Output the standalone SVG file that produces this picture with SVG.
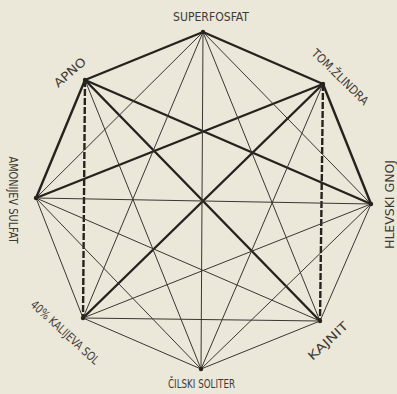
<svg xmlns="http://www.w3.org/2000/svg" width="397" height="394" viewBox="0 0 397 394">
<style>
.bg{fill:#ebe7d9}
.thick{stroke:#26221e;stroke-width:2.4;stroke-linecap:round;fill:none}
.dash{stroke:#26221e;stroke-width:2.4;stroke-dasharray:7 2;fill:none}
.thin{stroke:#3a3631;stroke-width:1;fill:none}
.dot{fill:#26221e}
.lbl{font-family:"Liberation Sans Narrow","DejaVu Sans Condensed","Liberation Sans",sans-serif;font-size:12px;fill:#3e3a35;text-anchor:middle;dominant-baseline:central}
</style>
<rect class="bg" x="0" y="0" width="397" height="394"/>
<g id="connectors">
<line class="thick" x1="85" y1="80" x2="203" y2="32"/>
<line class="thick" x1="203" y1="32" x2="323" y2="84"/>
<line class="thick" x1="323" y1="84" x2="371" y2="204"/>
<line class="thick" x1="36" y1="198" x2="85" y2="80"/>
<line class="thick" x1="85" y1="80" x2="371" y2="204"/>
<line class="thick" x1="36" y1="198" x2="323" y2="84"/>
<line class="thick" x1="85" y1="80" x2="320" y2="321"/>
<line class="thick" x1="323" y1="84" x2="83" y2="318"/>
<line class="dash" x1="85" y1="80" x2="83" y2="318"/>
<line class="dash" x1="323" y1="84" x2="320" y2="321"/>
<line class="thin" x1="203" y1="32" x2="371" y2="204"/>
<line class="thin" x1="203" y1="32" x2="320" y2="321"/>
<line class="thin" x1="203" y1="32" x2="201" y2="369"/>
<line class="thin" x1="203" y1="32" x2="83" y2="318"/>
<line class="thin" x1="203" y1="32" x2="36" y2="198"/>
<line class="thin" x1="323" y1="84" x2="201" y2="369"/>
<line class="thin" x1="371" y1="204" x2="320" y2="321"/>
<line class="thin" x1="371" y1="204" x2="201" y2="369"/>
<line class="thin" x1="371" y1="204" x2="83" y2="318"/>
<line class="thin" x1="371" y1="204" x2="36" y2="198"/>
<line class="thin" x1="320" y1="321" x2="201" y2="369"/>
<line class="thin" x1="320" y1="321" x2="83" y2="318"/>
<line class="thin" x1="320" y1="321" x2="36" y2="198"/>
<line class="thin" x1="201" y1="369" x2="83" y2="318"/>
<line class="thin" x1="201" y1="369" x2="36" y2="198"/>
<line class="thin" x1="83" y1="318" x2="36" y2="198"/>
<line class="thin" x1="85" y1="80" x2="201" y2="369"/>
</g>
<g id="superfosfat">
<circle class="dot" cx="203" cy="32" r="2.2"/>
<text class="lbl" x="211" y="17" textLength="76" lengthAdjust="spacingAndGlyphs">SUPERFOSFAT</text>
</g>
<g id="tom-zlindra">
<circle class="dot" cx="323" cy="84" r="2.2"/>
<text class="lbl" transform="translate(340,77) rotate(44.5)" x="0" y="0" textLength="74" lengthAdjust="spacingAndGlyphs">TOM.ŽLINDRA</text>
</g>
<g id="hlevski-gnoj">
<circle class="dot" cx="371" cy="204" r="2.2"/>
<text class="lbl" transform="translate(390,204.5) rotate(-90)" x="0" y="0" textLength="89" lengthAdjust="spacingAndGlyphs">HLEVSKI GNOJ</text>
</g>
<g id="kajnit">
<circle class="dot" cx="320" cy="321" r="2.2"/>
<text class="lbl" transform="translate(328,341) rotate(-43)" x="0" y="0" textLength="50" lengthAdjust="spacingAndGlyphs">KAJNIT</text>
</g>
<g id="cilski-soliter">
<circle class="dot" cx="201" cy="369" r="2.2"/>
<text class="lbl" x="201.5" y="383.5" textLength="67" lengthAdjust="spacingAndGlyphs">ČILSKI SOLITER</text>
</g>
<g id="kalijeva-sol">
<circle class="dot" cx="83" cy="318" r="2.2"/>
<text class="lbl" transform="translate(65,332.5) rotate(42.5)" x="0" y="0" textLength="88" lengthAdjust="spacingAndGlyphs">40% KALIJEVA SOL</text>
</g>
<g id="amonijev-sulfat">
<circle class="dot" cx="36" cy="198" r="2.2"/>
<text class="lbl" transform="translate(12.5,200) rotate(90)" x="0" y="0" textLength="87" lengthAdjust="spacingAndGlyphs">AMONIJEV SULFAT</text>
</g>
<g id="apno">
<circle class="dot" cx="85" cy="80" r="2.2"/>
<text class="lbl" transform="translate(70,72.5) rotate(-41)" x="0" y="0" textLength="38" lengthAdjust="spacingAndGlyphs">APNO</text>
</g>
</svg>
